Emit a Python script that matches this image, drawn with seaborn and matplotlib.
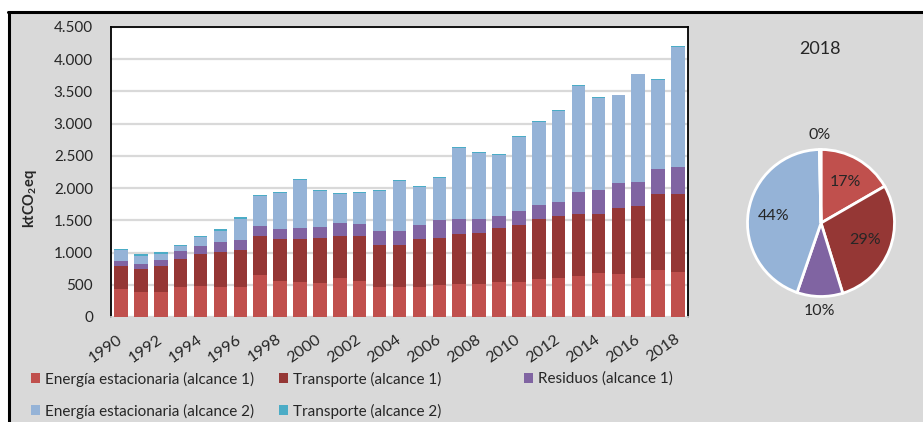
import numpy as np
import pandas as pd
import matplotlib
matplotlib.use('Agg')
import matplotlib.pyplot as plt
from matplotlib.patches import Patch, Rectangle
from matplotlib.lines import Line2D
from matplotlib.ticker import FuncFormatter, MultipleLocator
import seaborn as sns

# --------------------------------------------------------------------------
# Datos (ktCO2eq por año)
# --------------------------------------------------------------------------
years = list(range(1990, 2019))
energia_a1 = [440, 387, 387, 469, 485, 469, 469, 655, 562, 546, 531, 608, 562, 469, 469,
              469, 500, 515, 515, 546, 546, 593, 608, 639, 686, 670, 608, 732, 701]
transporte_a1 = [344, 360, 407, 438, 494, 546, 577, 608, 655, 671, 701, 655, 701, 655, 655,
                 748, 732, 779, 794, 841, 887, 933, 964, 964, 917, 1026, 1109, 1170, 1201]
residuos_a1 = [92, 78, 98, 124, 129, 155, 155, 155, 154, 170, 170, 201, 186, 216, 216,
               216, 278, 232, 217, 185, 217, 206, 206, 330, 361, 376, 371, 387, 423]
energia_a2 = [165, 129, 93, 72, 139, 170, 325, 458, 547, 732, 547, 438, 469, 609, 768,
              588, 650, 1103, 1026, 949, 1144, 1299, 1423, 1645, 1428, 1372, 1675, 1381, 1866]
transporte_a2 = [20, 20, 20, 20, 16, 20, 20, 16, 15, 18, 15, 16, 15, 15, 16,
                 15, 15, 16, 15, 15, 15, 16, 16, 15, 15, 5, 15, 16, 15]

series_labels = ['Energía estacionaria (alcance 1)', 'Transporte (alcance 1)', 'Residuos (alcance 1)',
                 'Energía estacionaria (alcance 2)', 'Transporte (alcance 2)']
series_colors = ['#C0504D', '#953735', '#8064A2', '#95B3D7', '#4BACC6']

TEXTO = '#262626'
GRIS = '#D9D9D9'
W, H = 923, 422

sns.set_theme(style='white')
plt.rcParams['font.family'] = ['Lato', 'DejaVu Sans']
plt.rcParams['mathtext.fontset'] = 'custom'
plt.rcParams['mathtext.rm'] = 'Lato'
plt.rcParams['mathtext.bf'] = 'Lato:bold'

df = pd.DataFrame({
    'Año': years,
    'E1': energia_a1,
    'T1': transporte_a1,
    'R1': residuos_a1,
    'E2': energia_a2,
    'T2': transporte_a2,
})
cols = ['E1', 'T1', 'R1', 'E2', 'T2']
stack = df[cols].cumsum(axis=1)
stack['Año'] = df['Año']

fig = plt.figure(figsize=(W / 100, H / 100), dpi=100)
fig.patch.set_facecolor('white')

# fondo gris con borde negro arriba e izquierda
fig.add_artist(Rectangle((8 / W, 0), 1, 1 - 12 / H, transform=fig.transFigure,
                         facecolor=GRIS, edgecolor='none', zorder=-10))
fig.add_artist(Line2D([8 / W, 1], [1 - 11.5 / H, 1 - 11.5 / H], color='black', lw=2.2))
fig.add_artist(Line2D([8.5 / W, 8.5 / W], [0, 1 - 11.5 / H], color='black', lw=2.2))

# --------------------------------------------------------------------------
# Barras apiladas
# --------------------------------------------------------------------------
ax = fig.add_axes([111 / W, 1 - 317 / H, 577 / W, 290 / H])
ax.set_facecolor('white')
for i in reversed(range(len(cols))):
    sns.barplot(data=stack, x='Año', y=cols[i], color=series_colors[i], saturation=1,
                width=0.68, linewidth=0, errorbar=None, ax=ax, zorder=3)

ax.set_xlim(-0.5, len(years) - 0.5)
ax.set_ylim(0, 4500)
ax.yaxis.set_major_locator(MultipleLocator(500))
ax.yaxis.set_major_formatter(FuncFormatter(lambda v, p: f'{int(v):,}'.replace(',', '.')))
ax.grid(axis='y', color=GRIS, lw=1.6, zorder=0)
ax.set_axisbelow(True)
ax.set_xticks(range(0, len(years), 2))
ax.set_xticklabels([str(y) for y in years[::2]], rotation=35, ha='right',
                   rotation_mode='anchor', va='center')
ax.tick_params(axis='y', length=0, pad=13, labelsize=11, labelcolor=TEXTO)
ax.tick_params(axis='x', length=0, pad=15, labelsize=11.5, labelcolor=TEXTO)
ax.set_xlabel('')
ax.set_ylabel('')
for side in ['left', 'top', 'right']:
    ax.spines[side].set_color('black')
    ax.spines[side].set_linewidth(1.3)
ax.spines['bottom'].set_color(GRIS)

fig.text(30 / W, 1 - 199 / H, r'$\mathbf{ktCO_2eq}$', rotation=90, ha='center', va='center',
         fontsize=10.5, color=TEXTO)

# --------------------------------------------------------------------------
# Pastel 2018
# --------------------------------------------------------------------------
valores_2018 = df.loc[df['Año'] == 2018, cols].iloc[0].values
axp = fig.add_axes([(821 - 73.5) / W, (H - 223 - 73.5) / H, 147 / W, 147 / H])
wedges, _, autotexts = axp.pie(valores_2018, colors=series_colors, startangle=90, counterclock=False,
                               autopct='%.0f%%', pctdistance=0.65,
                               wedgeprops=dict(edgecolor='white', linewidth=2),
                               textprops=dict(fontsize=11.5, color=TEXTO))
for w, t in zip(wedges, autotexts):
    share = (w.theta2 - w.theta1) / 360
    if share < 0.12:
        # etiquetas pequeñas fuera del pastel
        ang = np.deg2rad((w.theta1 + w.theta2) / 2)
        t.set_position((1.2 * np.cos(ang), 1.2 * np.sin(ang)))
axp.set_xlim(-1, 1)
axp.set_ylim(-1, 1)
fig.text(820 / W, 1 - 49 / H, '2018', ha='center', va='center', fontsize=13, color=TEXTO)

# --------------------------------------------------------------------------
# Leyenda
# --------------------------------------------------------------------------
pos_leyenda = [(31, 379), (279, 379), (524, 379), (31, 411), (279, 411)]
for lab, col, (lx, ly) in zip(series_labels, series_colors, pos_leyenda):
    fig.legend(handles=[Patch(facecolor=col, edgecolor='none', label=lab)],
               loc='center left', bbox_to_anchor=(lx / W, 1 - ly / H), frameon=False,
               fontsize=11, labelcolor=TEXTO, handlelength=0.6, handleheight=0.6,
               handletextpad=0.3, borderpad=0, borderaxespad=0)

plt.savefig('out.png', dpi=100)
